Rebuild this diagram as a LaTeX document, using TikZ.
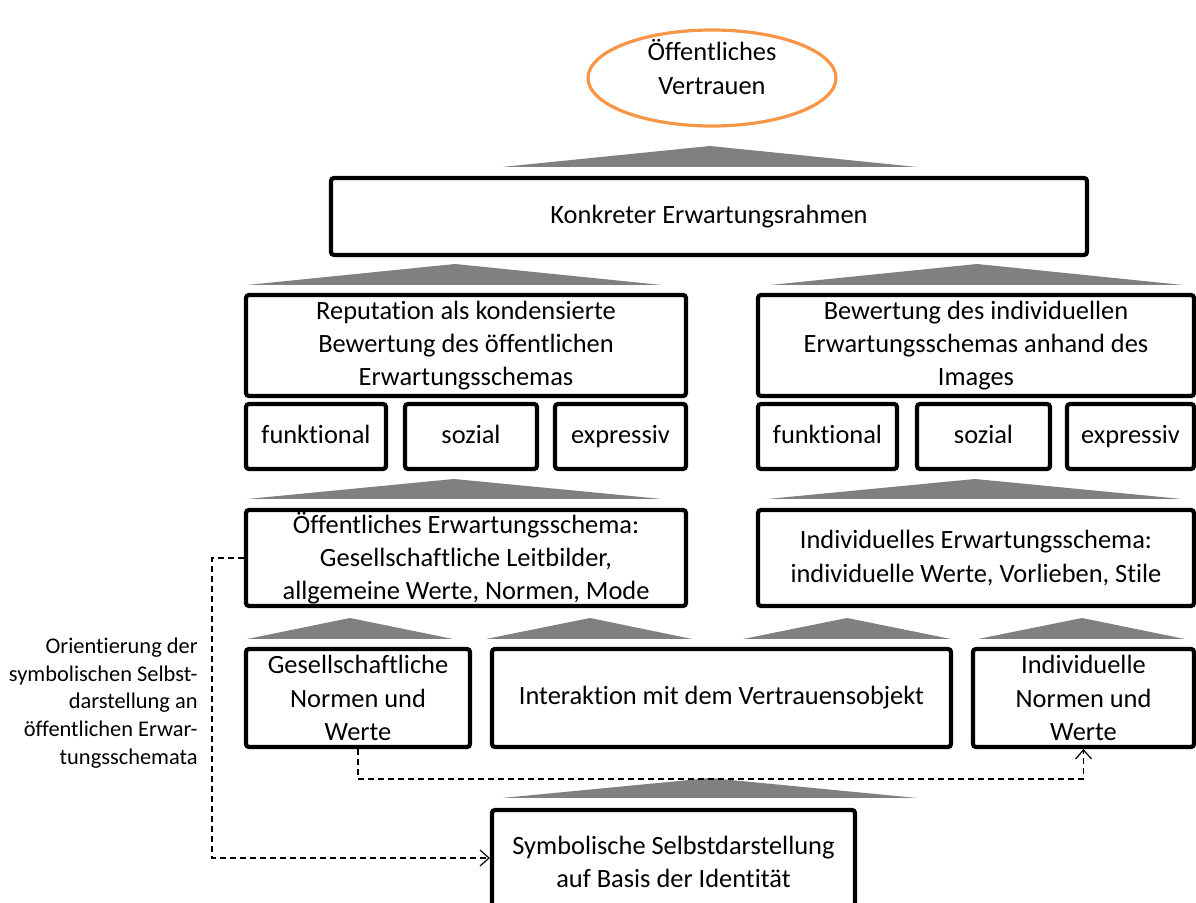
\documentclass[tikz,border=0pt]{standalone}
\usepackage{fontspec}
\setmainfont{Carlito}[RawFeature={-liga}]
\usetikzlibrary{shapes.geometric,arrows.meta}
\definecolor{ovalorange}{HTML}{F79646}
\definecolor{trigray}{HTML}{808080}
\begin{document}
\begin{tikzpicture}[x=0.5pt,y=-0.5pt,
  box/.style={draw=black,line width=2.1pt,rounded corners=1.5pt,align=center,inner sep=0pt,
    font=\fontsize{13.2}{16.6}\selectfont},
  tri/.style={fill=trigray,draw=none},
  dashline/.style={draw=black,line width=0.7pt,dash pattern=on 3pt off 2pt,
    -{Straight Barb[length=4.5pt,width=8pt,line width=0.6pt]}},
  note/.style={align=right,inner sep=0pt,font=\fontsize{11.2}{13.9}\selectfont},
]
\useasboundingbox (0,0) rectangle (1196,903);

% top oval
\node[ellipse,draw=ovalorange,line width=1.6pt,minimum width=124pt,minimum height=48pt] (vt) at (712,78) {};
\node[align=center,inner sep=0pt,font=\fontsize{13.2}{16.6}\selectfont] (vttext) at (712,67) {Öffentliches\\Vertrauen};

% triangles
\fill[tri] (502,167) -- (710,146) -- (917,167) -- cycle;
\fill[tri] (247,285) -- (455,264) -- (662,285) -- cycle;
\fill[tri] (770,285) -- (977,264) -- (1183,285) -- cycle;
\fill[tri] (247,499) -- (454,479) -- (662,499) -- cycle;
\fill[tri] (767,499) -- (975,479) -- (1182,499) -- cycle;
\fill[tri] (247,639) -- (350,618) -- (453,639) -- cycle;
\fill[tri] (486,639) -- (590,618) -- (692,639) -- cycle;
\fill[tri] (743,639) -- (847,618) -- (951,639) -- cycle;
\fill[tri] (978,639) -- (1082,618) -- (1185,639) -- cycle;
\fill[tri] (502,798) -- (710,778) -- (917,798) -- cycle;

% boxes
\node[box,minimum width=378pt,minimum height=38.5pt] (konk) at (709,216.5) {\strut Konkreter Erwartungsrahmen};

\node[box,minimum width=220pt,minimum height=50.5pt] (rep) at (466,345.5) {Reputation als kondensierte\\Bewertung des öffentlichen\\Erwartungsschemas};
\node[box,minimum width=218pt,minimum height=50.5pt] (bew) at (976,345.5) {Bewertung des individuellen\\Erwartungsschemas anhand des\\Images};

\node[box,minimum width=70pt,minimum height=32.5pt] (f1) at (316,436.5) {\strut funktional};
\node[box,minimum width=66pt,minimum height=32.5pt] (s1) at (471,436.5) {\strut sozial};
\node[box,minimum width=65.5pt,minimum height=32.5pt] (e1) at (620.5,436.5) {\strut expressiv};
\node[box,minimum width=69.5pt,minimum height=32.5pt] (f2) at (827.5,436.5) {\strut funktional};
\node[box,minimum width=66.5pt,minimum height=32.5pt] (s2) at (983.5,436.5) {\strut sozial};
\node[box,minimum width=63.5pt,minimum height=32.5pt] (e2) at (1130.5,436.5) {\strut expressiv};

\node[box,minimum width=220pt,minimum height=48pt] (oe) at (466,558) {Öffentliches Erwartungsschema:\\Gesellschaftliche Leitbilder,\\allgemeine Werte, Normen, Mode};
\node[box,minimum width=218pt,minimum height=48pt] (ie) at (976,558) {Individuelles Erwartungsschema:\\individuelle Werte, Vorlieben, Stile};

\node[box,minimum width=112pt,minimum height=49pt] (gnw) at (358,698) {Gesellschaftliche\\Normen und\\Werte};
\node[box,minimum width=229.5pt,minimum height=49pt] (inter) at (721.5,698) {\strut Interaktion mit dem Vertrauensobjekt};
\node[box,minimum width=110.5pt,minimum height=49pt] (inw) at (1083.5,698) {Individuelle\\Normen und\\Werte};

\node[box,minimum width=181.5pt,minimum height=52pt] (sym) at (673.5,862) {Symbolische Selbstdarstellung\\auf Basis der Identität};

% note
\node[note,anchor=east] (note) at (198,703) {Orientierung der\\symbolischen Selbst-\\darstellung an\\öffentlichen Erwar-\\tungsschemata};

% dashed connectors
\coordinate (c1) at (720,779);
\coordinate (c2) at (212,858);
\draw[dashline] (gnw.south) |- (c1) -| (inw.south);
\draw[dashline] (oe.west) -| (c2) -- (sym.west |- c2);
\end{tikzpicture}
\end{document}
